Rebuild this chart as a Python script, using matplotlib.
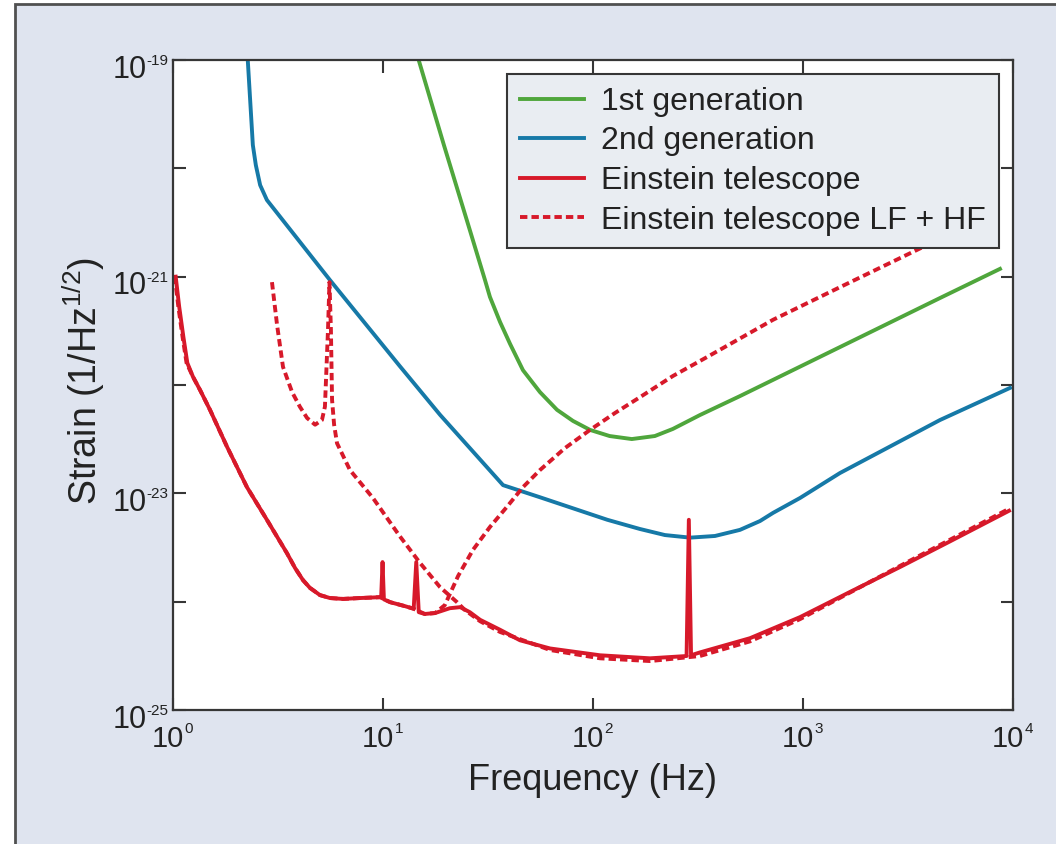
# sensitivity curves: 1st/2nd generation detectors vs Einstein telescope
import matplotlib
matplotlib.use("Agg")
import matplotlib.pyplot as plt
from matplotlib.patches import Rectangle

plt.rcParams["font.family"] = ["Liberation Sans", "DejaVu Sans"]
plt.rcParams["mathtext.fontset"] = "custom"
plt.rcParams["mathtext.rm"] = "Liberation Sans"
plt.rcParams["mathtext.it"] = "Liberation Sans:italic"
plt.rcParams["mathtext.bf"] = "Liberation Sans:bold"

# values (frequency in Hz, strain in 1/sqrt(Hz))
gen1_f = [14.7, 19.5, 25.9, 30.6, 32.3, 36.1, 40.3, 46.4, 55.9, 67.4, 80.3, 96.8,
          120, 153, 197, 240, 323, 501, 1500, 4490, 8670]
gen1_h = [1.04e-19, 1.64e-20, 2.7e-21, 9.3e-22, 6.5e-22, 3.81e-22, 2.39e-22,
          1.37e-22, 8.6e-23, 5.9e-23, 4.66e-23, 3.85e-23, 3.38e-23, 3.17e-23,
          3.38e-23, 3.93e-23, 5.28e-23, 7.9e-23, 2.24e-22, 6.35e-22, 1.18e-21]

gen2_f = [2.27, 2.40, 2.48, 2.60, 2.80, 5.59, 12.0, 18.7, 37.3, 55.9, 117, 167,
          220, 290, 381, 501, 624, 720, 968, 1500, 4490, 9680]
gen2_h = [1.0e-19, 1.64e-20, 1.07e-20, 7.0e-21, 5.1e-21, 9.3e-22, 1.5e-22,
          5.3e-23, 1.19e-23, 9.2e-24, 5.7e-24, 4.69e-24, 4.12e-24, 3.9e-24,
          4.04e-24, 4.6e-24, 5.55e-24, 6.6e-24, 9.06e-24, 1.54e-23, 4.75e-23,
          9.4e-23]

et_f = [1.03, 1.07, 1.12, 1.17, 1.245, 1.345, 1.50, 1.81, 2.25, 2.80, 3.49, 3.81,
        4.16, 4.49, 5.01, 5.59, 6.45, 7.77, 9.68, 9.8, 9.95, 10.1, 10.8, 12.7,
        14.0, 14.4, 14.8, 15.8, 17.7, 20.8, 23.3, 25.9, 29.0, 36.1, 44.9, 62.4,
        108, 187, 279, 286, 293, 323, 559, 968, 1675, 2900, 5010, 9570]
et_h = [1.0e-21, 5.3e-22, 2.8e-22, 1.6e-22, 1.19e-22, 9.0e-23, 5.9e-23,
        2.68e-23, 1.14e-23, 5.7e-24, 2.8e-24, 2.05e-24, 1.58e-24, 1.34e-24,
        1.15e-24, 1.08e-24, 1.06e-24, 1.08e-24, 1.10e-24, 1.10e-24, 2.32e-24,
        1.05e-24, 9.9e-25, 9.1e-25, 8.6e-25, 2.32e-24, 8.0e-25, 7.7e-25,
        7.85e-25, 8.7e-25, 8.9e-25, 8.0e-25, 6.8e-25, 5.5e-25, 4.4e-25, 3.7e-25,
        3.2e-25, 3.0e-25, 3.15e-25, 5.7e-24, 3.2e-25, 3.4e-25, 4.6e-25, 7.2e-25,
        1.23e-24, 2.09e-24, 3.6e-24, 6.9e-24]

# low-frequency (cryogenic) part of the xylophone
lf_f = [1.02, 1.06, 1.11, 1.16, 1.245, 1.345, 1.50, 1.81, 2.25, 2.80, 3.49, 3.81,
        4.16, 4.49, 5.01, 5.59, 6.45, 7.77, 9.68, 10.8, 12.7, 14.0, 15.8, 17.7,
        19.7, 22.8, 26.8, 32.3, 38.9, 46.4, 55.9, 73.6, 96.8, 127, 167, 240,
        349, 720, 1500, 3730, 6240]
lf_h = [1.0e-21, 5.3e-22, 2.8e-22, 1.6e-22, 1.19e-22, 9.0e-23, 5.9e-23,
        2.68e-23, 1.14e-23, 5.7e-24, 2.8e-24, 2.05e-24, 1.58e-24, 1.34e-24,
        1.15e-24, 1.08e-24, 1.06e-24, 1.08e-24, 1.10e-24, 9.9e-25, 9.1e-25,
        8.6e-25, 7.7e-25, 7.85e-25, 9.3e-25, 1.73e-24, 3.0e-24, 4.89e-24,
        7.5e-24, 1.14e-23, 1.64e-23, 2.62e-23, 3.85e-23, 5.5e-23, 7.7e-23,
        1.21e-22, 1.81e-22, 4.0e-22, 8.0e-22, 1.88e-21, 3.06e-21]

# high-frequency part
hf_f = [2.96, 3.13, 3.34, 3.69, 4.02, 4.35, 4.75, 5.12, 5.29, 5.47, 5.56, 5.65,
        5.72, 5.85, 6.04, 6.96, 8.96, 12.0, 15.0, 18.7, 22.5, 24.5, 29.0, 36.1,
        62.4, 108, 187, 323, 559, 968, 2900, 9570]
hf_h = [8.9e-22, 3.58e-22, 1.47e-22, 8.6e-23, 6.3e-23, 4.96e-23, 4.3e-23,
        4.75e-23, 6.3e-23, 3.2e-22, 8.9e-22, 3.2e-22, 7.3e-23, 4.3e-23, 2.9e-23,
        1.64e-23, 9.05e-24, 4.04e-24, 2.28e-24, 1.36e-24, 9.9e-25, 8.4e-25,
        6.6e-25, 5.25e-25, 3.58e-25, 3.0e-25, 2.83e-25, 3.15e-25, 4.3e-25,
        6.9e-25, 2.14e-24, 7.2e-24]

x_ticks = [1e0, 1e1, 1e2, 1e3, 1e4]
x_exps = ["0", "1", "2", "3", "4"]
y_ticks = [1e-25, 1e-24, 1e-23, 1e-22, 1e-21, 1e-20, 1e-19]
y_label_ticks = [1e-25, 1e-23, 1e-21, 1e-19]
y_exps = ["-25", "-23", "-21", "-19"]

GREEN = "#4fa63c"
BLUE = "#1679a7"
RED = "#d7192a"
BG = "#dfe4ef"
DARK = "#363636"
TXT = "#222222"

fig = plt.figure(figsize=(10.56, 8.44), dpi=100, facecolor="white")
fig.patches.append(Rectangle((15 / 1056, -0.01), 1.0, 1.01 - 4 / 844,
                             transform=fig.transFigure, facecolor=BG,
                             edgecolor="#505050", linewidth=2, zorder=-10))

ax = fig.add_axes([173 / 1056, 1 - 710 / 844, 840 / 1056, 650 / 844])
ax.set_facecolor("white")

lw = 2.8
ax.plot(gen1_f, gen1_h, color=GREEN, lw=lw, label="1st generation")
ax.plot(gen2_f, gen2_h, color=BLUE, lw=lw, label="2nd generation")
ax.plot(et_f, et_h, color=RED, lw=lw, label="Einstein telescope")
ax.plot(lf_f, lf_h, color=RED, lw=lw, dashes=(1.9, 1.05),
        label="Einstein telescope LF + HF")
ax.plot(hf_f, hf_h, color=RED, lw=lw, dashes=(1.9, 1.05))

ax.set_xscale("log")
ax.set_yscale("log")
ax.set_xlim(1, 1e4)
ax.set_ylim(1e-25, 1e-19)
ax.set_xticks(x_ticks)
ax.set_yticks(y_ticks)
ax.minorticks_off()
ax.tick_params(which="major", direction="in", length=9, width=1.5, color=DARK,
               top=True, right=True, labelbottom=False, labelleft=False)

for s in ax.spines.values():
    s.set_linewidth(1.6)
    s.set_color(DARK)

# tick labels as "10" with a small raised exponent, like the original
for v, e in zip(x_ticks, x_exps):
    ax.annotate("10", xy=(v, 0), xycoords=("data", "axes fraction"),
                xytext=(8, -26.6), textcoords="offset points", ha="right",
                va="baseline", fontsize=21, color=TXT, annotation_clip=False)
    ax.annotate(e, xy=(v, 0), xycoords=("data", "axes fraction"),
                xytext=(8.2, -16.8), textcoords="offset points", ha="left",
                va="baseline", fontsize=11, color=TXT, annotation_clip=False)

for v, e in zip(y_label_ticks, y_exps):
    ex = ax.annotate(e, xy=(0, v), xycoords=("axes fraction", "data"),
                     xytext=(-3.6, -3.6), textcoords="offset points",
                     ha="right", va="baseline", fontsize=11, color=TXT,
                     annotation_clip=False)
    ax.annotate("10", xy=(0, 0), xycoords=ex, xytext=(0.2, -6.9),
                textcoords="offset points", ha="right", va="baseline",
                fontsize=22, color=TXT, annotation_clip=False)

ax.set_xlabel("Frequency (Hz)", fontsize=26, color=TXT)
ax.set_ylabel("Strain (1/Hz$^{1/2}$)", fontsize=27, color=TXT)
ax.xaxis.set_label_coords(0.499, -0.081)
ax.yaxis.set_label_coords(-0.079, 0.506)

leg = ax.legend(loc="upper right", bbox_to_anchor=(0.9833, 0.9785),
                borderaxespad=0, fontsize=23, frameon=True, fancybox=False,
                framealpha=1, facecolor="#e9edf2", edgecolor=DARK,
                handlelength=2.0, handletextpad=0.56, labelspacing=0.3,
                borderpad=0.4)
leg.get_frame().set_linewidth(1.5)
for t in leg.get_texts():
    t.set_color(TXT)

fig.savefig("out.png", dpi=100, facecolor=fig.get_facecolor())
